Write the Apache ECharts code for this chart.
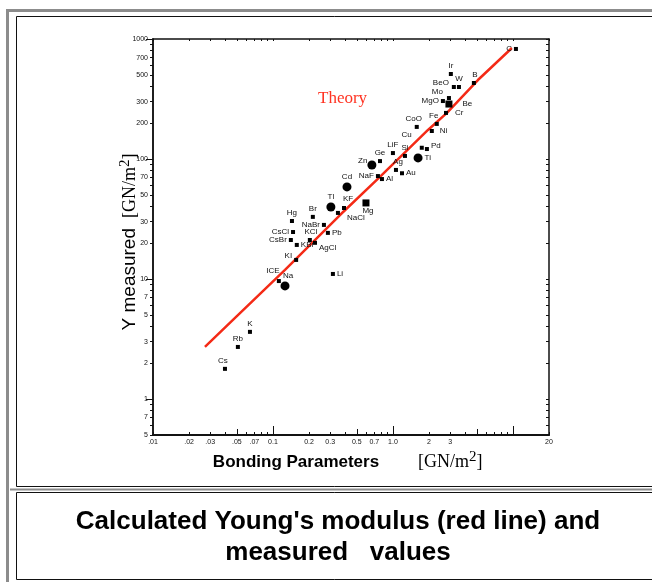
<!DOCTYPE html>
<html><head><meta charset="utf-8">
<script src="https://cdn.jsdelivr.net/npm/echarts@6/dist/echarts.min.js"></script>
<style>html,body{margin:0;padding:0;background:#fff}#c{width:652px;height:582px}</style>
</head><body><div id="c"></div>
<script>
// ---- data ----
const materials = ['C','Ir','B','BeO','W','Mo','MgO','Be','Cr','Fe','CoO','Ni','Cu','Pd','LiF','Si','Ti','Ge','Zn','Ag','Au','NaF','Al','Cd','Tl','KF','NaCl','Mg','Br','NaBr','Hg','CsCl','CsBr','KCl','Pb','KBr','AgCl','KI','ICE','Na','Li','K','Rb','Cs'];
const bondingParam = [10.6,3.04,4.73,3.22,3.55,2.93,2.61,2.93,2.77,2.32,1.58,2.11,1.74,1.92,1.0,1.26,1.62,0.78,0.668,1.06,1.19,0.75,0.81,0.414,0.304,0.391,0.348,0.596,0.215,0.266,0.144,0.147,0.141,0.203,0.287,0.158,0.224,0.156,0.112,0.126,0.316,0.0643,0.051,0.0398];
const youngMeasured = [826,511,430,398,398,322,304,287,242,196,185,171,124,121,112,106,102,96,89,81,76,72,68,58.5,39.8,39,35.5,43,32.9,28.2,30.4,24.6,21.1,21.1,24.2,19.2,20,14.4,9.6,8.75,11,3.62,2.71,1.78];
const theoryX = [0.0271,0.0464,0.126,0.362,0.779,1.96,2.82,5.11,9.81];
const theoryY = [2.71,4.55,11.9,34.1,70.8,174.5,242,455,841];
const xTickValues = [0.01,0.02,0.03,0.05,0.07,0.1,0.2,0.3,0.5,0.7,1,2,3,20];
const xTickLabels = ['.01','.02','.03','.05','.07','0.1','0.2','0.3','0.5','0.7','1.0','2','3','20'];
const yTickValues = [1000,700,500,300,200,100,70,50,30,20,10,7,5,3,2,1,0.7,0.5];
const yTickLabels = ['1000','700','500','300','200','100','70','50','30','20','10','7','5','3','2','1','7','5'];
const minorX = [0.01,0.02,0.03,0.04,0.05,0.06,0.07,0.08,0.09,0.1,0.2,0.3,0.4,0.5,0.6,0.7,0.8,0.9,1,2,3,4,5,6,7,8,9,10,20];
const minorY = [0.5,0.6,0.7,0.8,0.9,1,2,3,4,5,6,7,8,9,10,20,30,40,50,60,70,80,90,100,200,300,400,500,600,700,800,900,1000];
const majorX = [0.1,1,10];
const midX = [0.05,0.5,5];
const majorY = [1,10,100,1000];

// ---- layout / style (not data) ----
const labelPlace = {
  C:['left',0,0], Ir:['top',0,0], B:['top',1,0], BeO:['left',-1,-4], W:['top',0,0],
  Mo:['left',-2,-6], MgO:['left',0,0], Be:['right',8,0], Cr:['right',5,0], Fe:['top',-3,0],
  CoO:['top',-3,0], Ni:['right',4,0], Cu:['left',-6,-13], Pd:['right',0,-3], LiF:['top',0,0],
  Si:['top',0,0], Ti:['right',0,0], Ge:['top',0,0], Zn:['left',2,-4], Ag:['top',2,0],
  Au:['right',0,0], NaF:['left',0,0], Al:['right',0,0], Cd:['top',0,0], Tl:['top',0,0],
  KF:['top',4,-1], NaCl:['right',5,5], Mg:['bottom',2,-2], Br:['top',0,0], NaBr:['left',0,0],
  Hg:['top',0,0], CsCl:['left',0,0], CsBr:['left',0,0], KCl:['top',1,0], Pb:['right',0,0],
  KBr:['right',0,0], AgCl:['right',0,5], KI:['left',0,-4], ICE:['top',-6,-2], Na:['top',3,0],
  Li:['right',0,0], K:['top',0,0], Rb:['top',0,0], Cs:['top',-2,0]
};
const bigDots = ['Zn','Cd','Tl','Ti','Na'];
const squares = ['Mg','Be'];

const L = Math.log10;
const lblMap = (vals, labels) => { const m = {}; vals.forEach((v,i)=>{ m[L(v).toFixed(4)] = labels[i]; }); return m; };
const xLbl = lblMap(xTickValues, xTickLabels);
const yLbl = lblMap(yTickValues, yTickLabels);

const scatterData = materials.map((n,i) => {
  const p = labelPlace[n] || ['top',0,0];
  const big = bigDots.includes(n), sq = squares.includes(n);
  return {
    name: n,
    value: [L(bondingParam[i]), L(youngMeasured[i])],
    symbol: big ? 'circle' : 'rect',
    symbolSize: big ? 9 : (sq ? 7 : 4),
    label: { position: p[0], offset: [p[1], p[2]] }
  };
});
const theoryData = theoryX.map((x,i) => [L(x), L(theoryY[i])]);

const XMIN = -2, XMAX = L(20), YMIN = L(0.5), YMAX = 3;
const tickFont = { fontFamily: 'Liberation Sans', fontSize: 7, color: '#111' };
const axLine = {show:true, onZero:false, lineStyle:{color:'#111', width:1.5}};
const hiddenX = (pos, vals, len, inside) => ({
  type:'value', position: pos, min: XMIN, max: XMAX, gridIndex:0,
  axisLine: axLine,
  axisTick:{show:true, inside: inside, length: len, customValues: vals.map(L), lineStyle:{color:'#111', width:1}},
  axisLabel:{show:false}, splitLine:{show:false}
});
const hiddenY = (pos, vals, len, inside) => ({
  type:'value', position: pos, min: YMIN, max: YMAX, gridIndex:0,
  axisLine: axLine,
  axisTick:{show:true, inside: inside, length: len, customValues: vals.map(L), lineStyle:{color:'#111', width:1}},
  axisLabel:{show:false}, splitLine:{show:false}
});

const chart = echarts.init(document.getElementById('c'), null, {renderer:'canvas'});
chart.setOption({
  animation: false,
  backgroundColor: '#fff',
  grid: { left: 153, right: 103, top: 39, bottom: 147 },
  xAxis: [
    {
      type:'value', position:'bottom', min: XMIN, max: XMAX,
      axisLine: axLine,
      axisTick:{show:true, inside:true, length:3, customValues: minorX.map(L), lineStyle:{color:'#111'}},
      axisLabel:{ customValues: xTickValues.map(L), margin:4, ...tickFont,
        formatter: v => xLbl[Number(v).toFixed(4)] || '' },
      splitLine:{show:false}
    },
    hiddenX('bottom', midX, 6, true),
    hiddenX('bottom', majorX, 9, true),
    hiddenX('top', minorX, 2, true)
  ],
  yAxis: [
    {
      type:'value', position:'left', min: YMIN, max: YMAX,
      axisLine: axLine,
      axisTick:{show:true, inside:false, length:3, customValues: minorY.map(L), lineStyle:{color:'#111'}},
      axisLabel:{ customValues: yTickValues.map(L), margin:5, ...tickFont,
        formatter: v => yLbl[Number(v).toFixed(4)] || '' },
      splitLine:{show:false}
    },
    hiddenY('left', majorY, 7, false),
    hiddenY('right', minorY, 3, true)
  ],
  series: [
    {
      type:'line', name:'Theory', data: theoryData, xAxisIndex:0, yAxisIndex:0,
      showSymbol:false, symbol:'none', smooth:false,
      lineStyle:{color:'#f42a16', width:2.5}, z:2
    },
    {
      type:'scatter', name:'Measured', data: scatterData, xAxisIndex:0, yAxisIndex:0,
      itemStyle:{color:'#000', opacity:1}, z:3,
      label:{ show:true, formatter:'{b}', fontFamily:'Liberation Sans', fontSize:8, color:'#111', distance:2 }
    }
  ],
  graphic: [
    // outer gray frame
    { type:'rect', shape:{x:7.5, y:10.5, width:660, height:590}, style:{fill:'none', stroke:'#8c8c8c', lineWidth:3}, z:-10 },
    // inner boxes
    { type:'rect', shape:{x:16.5, y:16.5, width:660, height:470}, style:{fill:'none', stroke:'#111', lineWidth:1}, z:-9 },
    { type:'line', shape:{x1:10, y1:489.5, x2:660, y2:489.5}, style:{stroke:'#8c8c8c', lineWidth:2}, z:-9 },
    { type:'rect', shape:{x:16.5, y:492.5, width:660, height:87}, style:{fill:'none', stroke:'#111', lineWidth:1}, z:-9 },
    // Theory label
    { type:'text', x:318, y:99, style:{ text:'Theory', fill:'#ff3322', font:'17px "Liberation Serif"', textAlign:'left', textVerticalAlign:'middle' } },
    // x axis title
    { type:'text', x:296, y:462, style:{ text:'Bonding Parameters', fill:'#000', font:'bold 17px "Liberation Sans"', textAlign:'center', textVerticalAlign:'middle' } },
    { type:'text', x:418, y:462, style:{ text:'{b|[GN/m}{s|2}{b|]}', textAlign:'left', textVerticalAlign:'middle',
        rich:{ b:{fontFamily:'Liberation Serif', fontSize:18, color:'#222'}, s:{fontFamily:'Liberation Serif', fontSize:15, color:'#222', padding:[0,0,10,0]} } } },
    // y axis title
    { type:'text', x:130, y:242, rotation: Math.PI/2, style:{ text:'{a|Y measured}   {b|[GN/m}{s|2}{b|]}', textAlign:'center', textVerticalAlign:'middle',
        rich:{ a:{fontFamily:'Liberation Sans', fontSize:19, color:'#000'}, b:{fontFamily:'Liberation Serif', fontSize:18, color:'#222'}, s:{fontFamily:'Liberation Serif', fontSize:15, color:'#222', padding:[0,0,10,0]} } } },
    // caption
    { type:'text', x:338, y:522, style:{ text:"Calculated Young's modulus (red line) and", fill:'#000', font:'bold 26px "Liberation Sans"', textAlign:'center', textVerticalAlign:'middle' } },
    { type:'text', x:338, y:553, style:{ text:'measured   values', fill:'#000', font:'bold 26px "Liberation Sans"', textAlign:'center', textVerticalAlign:'middle' } }
  ]
});
</script>
</body></html>
